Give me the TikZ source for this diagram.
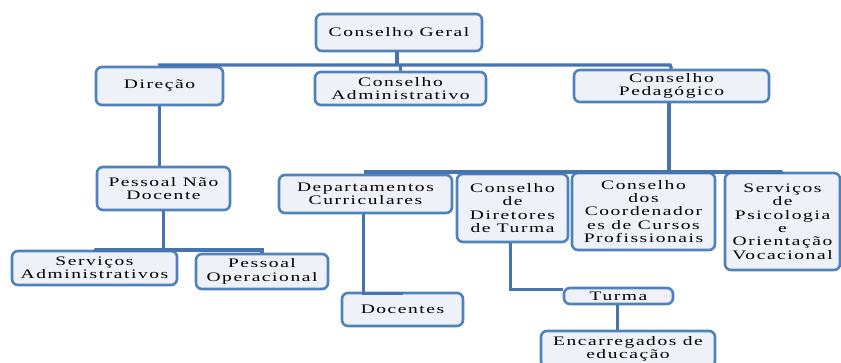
\documentclass[tikz,border=0pt]{standalone}
\usepackage{fontspec}
\setmainfont{Liberation Serif}[FakeStretch=1.5,LetterSpace=12]
\begin{document}
\begin{tikzpicture}[x=1pt,y=-1pt,
  unit/.style={draw=boxblue,fill=boxfill,line width=2.6pt,rounded corners=6pt,
    align=center,inner sep=0pt,font=\fontsize{13}{13.4}\selectfont},
  link/.style={draw=linkblue,line width=3.4pt}]
\definecolor{boxblue}{HTML}{4F81BD}
\definecolor{boxfill}{HTML}{EEF2F8}
\definecolor{linkblue}{HTML}{4674AE}
\useasboundingbox (0,0) rectangle (841,363);
% boxes: centre, width, height
\node[unit,minimum width=166,minimum height=37] (cg)   at (399,32.5)   {Conselho Geral};
\node[unit,minimum width=127,minimum height=38] (dir)  at (159.5,86)   {Direção};
\node[unit,minimum width=171,minimum height=33] (cadm) at (400.5,88.5) {Conselho\\Administrativo};
\node[unit,minimum width=195,minimum height=32] (cped) at (671.5,86)   {Conselho\\Pedagógico};
\node[unit,minimum width=133,minimum height=43] (pnd)  at (163.5,188.5){Pessoal Não\\Docente};
\node[unit,minimum width=165,minimum height=34] (sadm) at (94.5,268)   {Serviços\\Administrativos};
\node[unit,minimum width=132,minimum height=35] (pop)  at (262,271.5)  {Pessoal\\Operacional};
\node[unit,minimum width=173,minimum height=38] (dept) at (365.5,194)  {Departamentos\\Curriculares};
\node[unit,minimum width=111,minimum height=68] (cdt)  at (512.5,208)  {Conselho\\de\\Diretores\\de Turma};
\node[unit,minimum width=143,minimum height=77] (ccp)  at (643.5,211.5){Conselho\\dos\\Coordenador\\es de Cursos\\Profissionais};
\node[unit,minimum width=115,minimum height=97] (spov) at (782.5,221.5){Serviços\\de\\Psicologia\\e\\Orientação\\Vocacional};
\node[unit,minimum width=121,minimum height=33] (doc)  at (402.5,309.5){Docentes};
\node[unit,minimum width=109,minimum height=16] (turma) at (618.5,296) {Turma};
\node[unit,minimum width=174,minimum height=36] (enc)  at (628,349)    {Encarregados de\\educação};
% connectors
\coordinate (bus1) at (397,65);
\coordinate (bus2) at (161,250);
\coordinate (bus3) at (669,172);
\draw[link] (cg.south -| bus1) -- (bus1);
\draw[link] (dir.north) -- (dir.north |- bus1) -- (bus1 -| 670,0) -- (cped.north);
\draw[link] (cadm.north) -- (cadm.north |- bus1);
\draw[link] (dir.south) -- (dir.south |- pnd.north);
\draw[link] (pnd.south) -- (pnd.south |- bus2);
\draw[link] (sadm.north) -- (sadm.north |- bus2) -- (pop.north |- bus2) -- (pop.north);
\draw[link] (cped.south -| bus3) -- (bus3);
\draw[link] (dept.north) -- (dept.north |- bus3) -- (spov.north |- bus3) -- (spov.north);
\draw[link] (cdt.north) -- (cdt.north |- bus3);
\draw[link] (ccp.north) -- (ccp.north |- bus3);
\draw[link] ([xshift=-2]dept.south) |- ([yshift=-2]doc.north);
\draw[link] ([xshift=-2]cdt.south) |- ([yshift=-3]turma.north west);
\draw[link] ([xshift=-1]turma.south) -- ([xshift=-1]turma.south |- enc.north);
\end{tikzpicture}
\end{document}
